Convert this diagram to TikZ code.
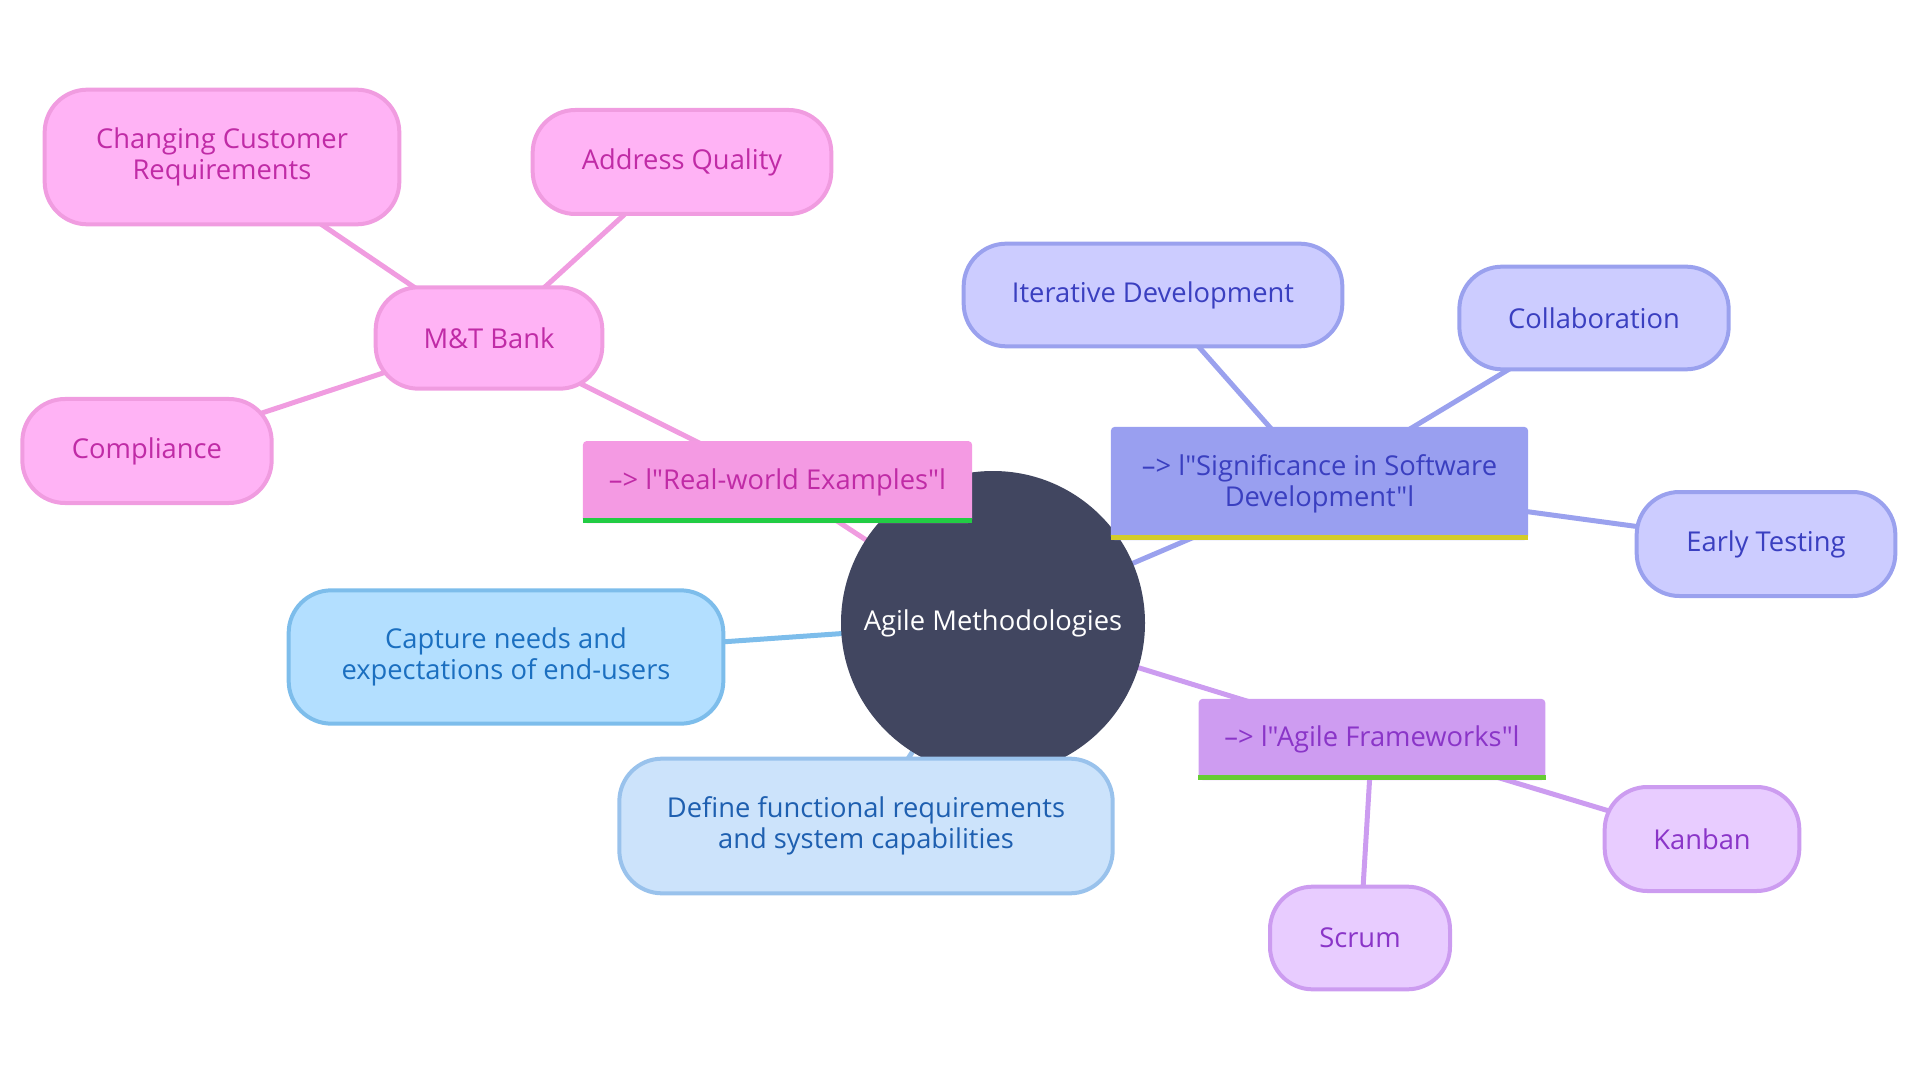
\documentclass[tikz,border=0pt]{standalone}
\usepackage{fontspec}
\setmainfont{Open Sans}[Ligatures=TeXOff]
\usepackage{tikz}
\usetikzlibrary{positioning}
\definecolor{hubfill}{RGB}{65,70,96}
\definecolor{pinkbox}{RGB}{244,154,227}
\definecolor{pinkleaf}{RGB}{255,179,245}
\definecolor{pinkline}{RGB}{240,156,224}
\definecolor{pinktext}{RGB}{192,43,166}
\definecolor{bluebox}{RGB}{153,159,240}
\definecolor{blueleaf}{RGB}{204,204,255}
\definecolor{blueline}{RGB}{154,161,238}
\definecolor{bluetext}{RGB}{58,63,192}
\definecolor{violetbox}{RGB}{206,156,241}
\definecolor{violetleaf}{RGB}{232,204,255}
\definecolor{violetline}{RGB}{204,156,240}
\definecolor{violettext}{RGB}{138,53,200}
\definecolor{skyleaf}{RGB}{179,223,255}
\definecolor{skyline}{RGB}{125,189,235}
\definecolor{skytext}{RGB}{27,111,192}
\definecolor{paleleaf}{RGB}{204,227,251}
\definecolor{paleline}{RGB}{153,194,236}
\definecolor{paletext}{RGB}{30,95,176}
\definecolor{greenbar}{RGB}{34,204,68}
\definecolor{yellowbar}{RGB}{212,204,40}
\definecolor{limebar}{RGB}{102,204,51}
\pgfdeclarelayer{bg}
\pgfsetlayers{bg,main}

\begin{document}
\begin{tikzpicture}[x=0.75pt, y=-0.75pt, every node/.style={font=\fontsize{20.5}{23}\selectfont, align=center},
    leaf/.style={draw, line width=3pt, rounded corners=32pt, minimum height=77pt},
    branch/.style={rounded corners=3pt},
    link/.style={line width=3.75pt}]
    \useasboundingbox (0,0) rectangle (1920,1080);
    \node[circle, fill=hubfill, text=white, minimum size=228pt, inner sep=0pt] (hub) at (993,623) {Agile Methodologies};
    \node[branch, fill=pinkbox, text=pinktext, minimum width=292pt, minimum height=61.5pt] (examples) at (777.5,482) {–> l"Real-world Examples"l};
    \node[branch, fill=bluebox, text=bluetext, minimum width=313pt, minimum height=85pt] (significance) at (1319.5,483.5) {–> l"Significance in Software\\Development"l};
    \node[branch, fill=violetbox, text=violettext, minimum width=260pt, minimum height=61pt] (frameworks) at (1372,739.5) {–> l"Agile Frameworks"l};
    \draw[line width=3.75pt, greenbar] ([yshift=1.875pt]examples.south west) -- ([yshift=1.875pt]examples.south east);
    \draw[line width=3.75pt, yellowbar] ([yshift=1.875pt]significance.south west) -- ([yshift=1.875pt]significance.south east);
    \draw[line width=3.75pt, limebar] ([yshift=1.875pt]frameworks.south west) -- ([yshift=1.875pt]frameworks.south east);
    \node[leaf, fill=pinkleaf, draw=pinkline, text=pinktext, minimum width=170pt, minimum height=76pt] (bank) at (489,338) {M\&T Bank};
    \node[leaf, fill=pinkleaf, draw=pinkline, text=pinktext, minimum width=266pt, minimum height=101pt] (changing) at (222,157) {Changing Customer\\Requirements};
    \node[leaf, fill=pinkleaf, draw=pinkline, text=pinktext, minimum width=224pt, minimum height=78pt] (quality) at (682,162) {Address Quality};
    \node[leaf, fill=pinkleaf, draw=pinkline, text=pinktext, minimum width=187pt, minimum height=78pt] (compliance) at (147,451) {Compliance};
    \node[leaf, fill=blueleaf, draw=blueline, text=bluetext, minimum width=284pt] (iterative) at (1153,295) {Iterative Development};
    \node[leaf, fill=blueleaf, draw=blueline, text=bluetext, minimum width=202pt] (collab) at (1594,318) {Collaboration};
    \node[leaf, fill=blueleaf, draw=blueline, text=bluetext, minimum width=194pt, minimum height=78pt] (testing) at (1766,544) {Early Testing};
    \node[leaf, fill=violetleaf, draw=violetline, text=violettext, minimum width=146pt, minimum height=78pt] (kanban) at (1702,839) {Kanban};
    \node[leaf, fill=violetleaf, draw=violetline, text=violettext, minimum width=135pt] (scrum) at (1360,938) {Scrum};
    \node[leaf, fill=skyleaf, draw=skyline, text=skytext, minimum width=326pt, minimum height=100pt] (capture) at (506,657) {Capture needs and\\expectations of end-users};
    \node[leaf, fill=paleleaf, draw=paleline, text=paletext, minimum width=370pt, minimum height=101pt] (define) at (866,826) {Define functional requirements\\and system capabilities};
    \begin{pgfonlayer}{bg}
        \draw[link, pinkline] (hub.center) -- (examples.center) -- (bank.center);
        \draw[link, pinkline] (bank.center) -- (changing.center);
        \draw[link, pinkline] (bank.center) -- (quality.center);
        \draw[link, pinkline] (bank.center) -- (compliance.center);
        \draw[link, blueline] (hub.center) -- (significance.center);
        \draw[link, blueline] (significance.center) -- (iterative.center);
        \draw[link, blueline] (significance.center) -- (collab.center);
        \draw[link, blueline] (significance.center) -- (testing.center);
        \draw[link, violetline] (hub.center) -- (frameworks.center);
        \draw[link, violetline] (frameworks.center) -- (kanban.center);
        \draw[link, violetline] (frameworks.center) -- (scrum.center);
        \draw[link, skyline] (hub.center) -- (capture.center);
        \draw[link, paleline] (hub.center) -- (define.center);
    \end{pgfonlayer}
\end{tikzpicture}
\end{document}
